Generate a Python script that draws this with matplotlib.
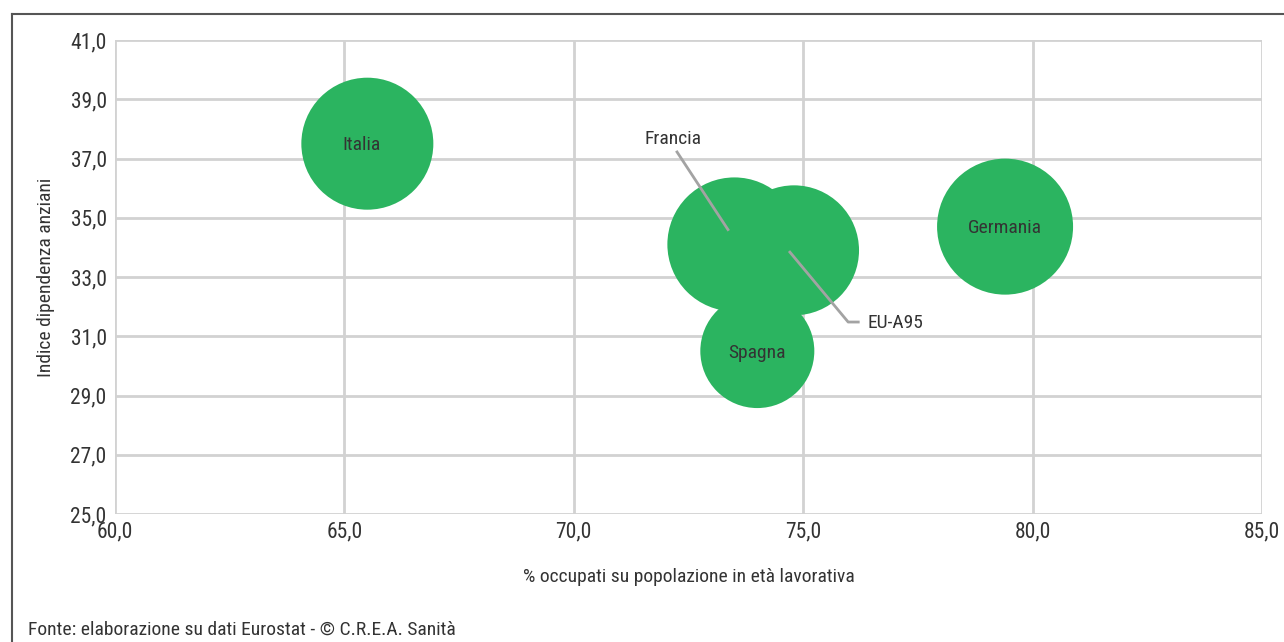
import matplotlib
matplotlib.use("Agg")
import matplotlib.pyplot as plt
from matplotlib.lines import Line2D
from matplotlib.ticker import FuncFormatter

plt.rcParams['font.family'] = ['Roboto Condensed', 'DejaVu Sans']
plt.rcParams['font.weight'] = 'normal'

# Data
paesi = ["Italia", "Francia", "EU-A95", "Spagna", "Germania"]
occupati = [65.5, 73.5, 74.8, 74.0, 79.4]          # % occupati su popolazione in età lavorativa
dipendenza = [37.5, 34.1, 33.9, 30.5, 34.7]        # Indice dipendenza anziani
dimensione = [66, 67, 65, 57, 68]                  # bubble size variable (relative)

x_ticks = [60, 65, 70, 75, 80, 85]
y_ticks = [25, 27, 29, 31, 33, 35, 37, 39, 41]

GREEN = "#2bb460"
GRID = "#d2d2d2"
TXT = "#333333"
FS = 14

fig = plt.figure(figsize=(12.84, 6.42), dpi=100)
ax = fig.add_axes([115/1284, 1-514/642, (1262-115)/1284, (514-40)/642])

sizes = [(1.44 * d) ** 2 for d in dimensione]
ax.scatter(occupati, dipendenza, s=sizes, color=GREEN, edgecolors='none', zorder=3)

ax.set_xlim(60, 85)
ax.set_ylim(25, 41)
ax.set_xticks(x_ticks)
ax.set_yticks(y_ticks)
fmt = FuncFormatter(lambda v, p: f"{v:.1f}".replace(".", ","))
ax.xaxis.set_major_formatter(fmt)
ax.yaxis.set_major_formatter(fmt)
ax.grid(True, color=GRID, linewidth=2, zorder=0)
for s in ax.spines.values():
    s.set_visible(False)
ax.tick_params(length=0, labelsize=15.5, labelcolor=TXT)
ax.tick_params(axis='x', pad=5)
ax.tick_params(axis='y', pad=6)

ax.set_xlabel("% occupati su popolazione in età lavorativa", fontsize=FS, color=TXT, labelpad=19)
ax.set_ylabel("Indice dipendenza anziani", fontsize=FS, color=TXT, labelpad=11)

# labels inside bubbles
for name in ["Italia", "Spagna", "Germania"]:
    i = paesi.index(name)
    ax.text(occupati[i] - (0.12 if name == "Italia" else 0.0), dipendenza[i] - 0.05, name,
            ha='center', va='center', fontsize=FS, color=TXT, zorder=5)

# leader labels
LINEC = "#a3a3a3"
i = paesi.index("Francia")
ax.plot([occupati[i] - 0.14, 72.25], [dipendenza[i] + 0.5, 37.22], color=LINEC, lw=2, zorder=4)
ax.text(72.16, 37.66, "Francia", ha='center', va='center', fontsize=FS, color=TXT, zorder=5)
i = paesi.index("EU-A95")
ax.plot([occupati[i] - 0.09, 75.98, 76.2], [dipendenza[i] - 0.06, 31.48, 31.48],
        color=LINEC, lw=2, zorder=4)
ax.text(76.41, 31.45, "EU-A95", ha='left', va='center', fontsize=FS, color=TXT, zorder=5)

# frame
fig.add_artist(Line2D([12/1284, 1.0], [1-14/642, 1-14/642], color="#555555", lw=1.5))
fig.add_artist(Line2D([12/1284, 12/1284], [1-14/642, 0.0], color="#555555", lw=1.5))

fig.text(28/1284, 1-630/642, "Fonte: elaborazione su dati Eurostat - © C.R.E.A. Sanità",
         fontsize=FS, color=TXT, ha='left', va='center')

fig.savefig("out.png", dpi=100, facecolor='white')
